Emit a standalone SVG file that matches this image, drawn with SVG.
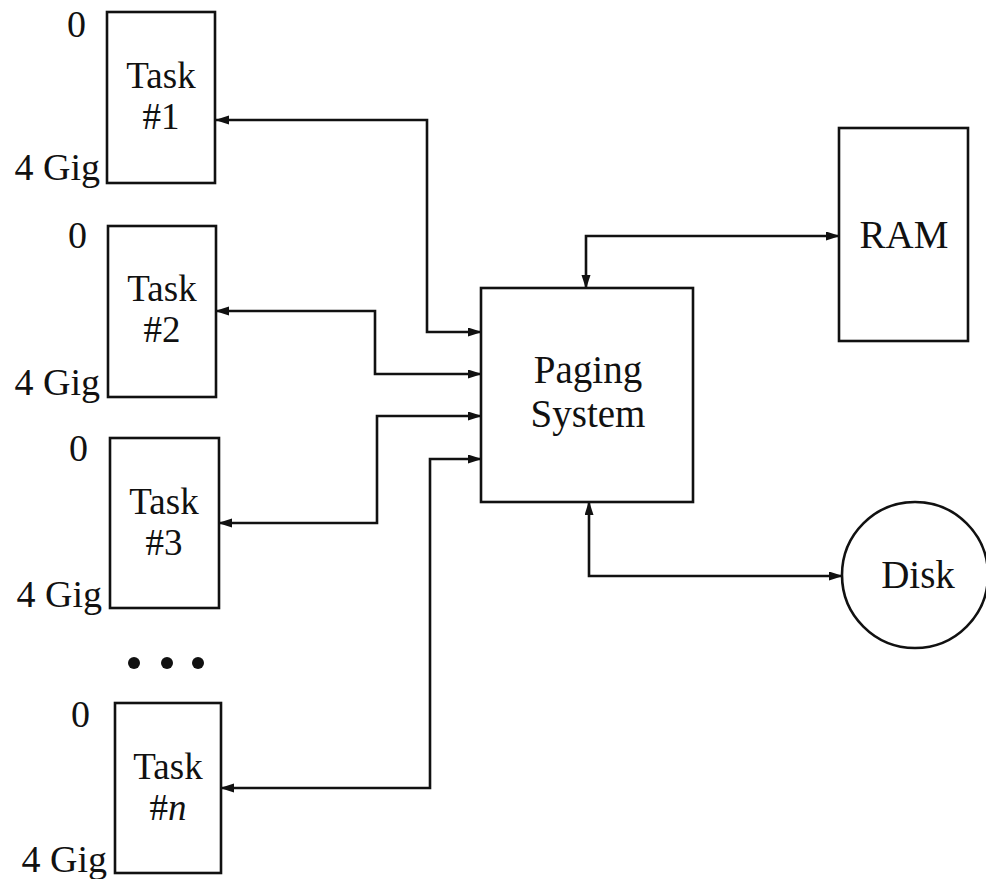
<svg xmlns="http://www.w3.org/2000/svg" width="986" height="879" viewBox="0 0 986 879">
<style>
.box{fill:#fff;stroke:#111;stroke-width:2.6}
.t{font-family:"Liberation Serif","DejaVu Serif",serif;font-size:39px;fill:#111}
.k{font-size:37px}
.l{font-size:38px}
.c{text-anchor:middle}
.e{text-anchor:end}
.conn{fill:none;stroke:#111;stroke-width:2.6}
</style>
<defs>
<marker id="ah" markerUnits="userSpaceOnUse" markerWidth="14" markerHeight="10" refX="13" refY="4.5" orient="auto-start-reverse">
<path d="M0,0 L14,4.5 L0,9 z" fill="#111"/>
</marker>
</defs>
<g id="connectors">
<path class="conn" d="M216,120 H427 V332 H481" marker-start="url(#ah)" marker-end="url(#ah)"/>
<path class="conn" d="M216,311 H375 V374 H481" marker-start="url(#ah)" marker-end="url(#ah)"/>
<path class="conn" d="M219,523 H377 V416 H481" marker-start="url(#ah)" marker-end="url(#ah)"/>
<path class="conn" d="M221,788 H430 V459 H481" marker-start="url(#ah)" marker-end="url(#ah)"/>
<path class="conn" d="M586,288 V236 H839" marker-start="url(#ah)" marker-end="url(#ah)"/>
<path class="conn" d="M589,502 V576 H842" marker-start="url(#ah)" marker-end="url(#ah)"/>
</g>
<g id="task1">
<rect class="box" x="107" y="12" width="108" height="171"/>
<text class="t k c" x="161" y="88">Task</text>
<text class="t k c" x="161" y="129">#1</text>
<text class="t l e" x="86" y="37">0</text>
<text class="t l e" x="100" y="180">4 Gig</text>
</g>
<g id="task2">
<rect class="box" x="108" y="226" width="108" height="171"/>
<text class="t k c" x="162" y="301">Task</text>
<text class="t k c" x="162" y="342">#2</text>
<text class="t l e" x="87" y="248">0</text>
<text class="t l e" x="100" y="395">4 Gig</text>
</g>
<g id="task3">
<rect class="box" x="110" y="438" width="109" height="170"/>
<text class="t k c" x="164" y="514">Task</text>
<text class="t k c" x="164" y="555">#3</text>
<text class="t l e" x="88" y="461">0</text>
<text class="t l e" x="102" y="607">4 Gig</text>
</g>
<g id="dots">
<circle cx="134" cy="663" r="6" fill="#111"/>
<circle cx="167" cy="663" r="6" fill="#111"/>
<circle cx="198" cy="663" r="6" fill="#111"/>
</g>
<g id="taskn">
<rect class="box" x="115" y="703" width="106" height="170"/>
<text class="t k c" x="168" y="779">Task</text>
<text class="t k c" x="168" y="820">#<tspan font-style="italic">n</tspan></text>
<text class="t l e" x="90" y="727">0</text>
<text class="t l e" x="107" y="872">4 Gig</text>
</g>
<g id="paging">
<rect class="box" x="481" y="288" width="212" height="214"/>
<text class="t c" x="588" y="383">Paging</text>
<text class="t c" x="588" y="427">System</text>
</g>
<g id="ram">
<rect class="box" x="839" y="128" width="129" height="213"/>
<text class="t c" x="904" y="248">RAM</text>
</g>
<g id="disk">
<circle class="box" cx="915" cy="575" r="73"/>
<text class="t c" x="918" y="588" font-size="43">Disk</text>
</g>
</svg>
